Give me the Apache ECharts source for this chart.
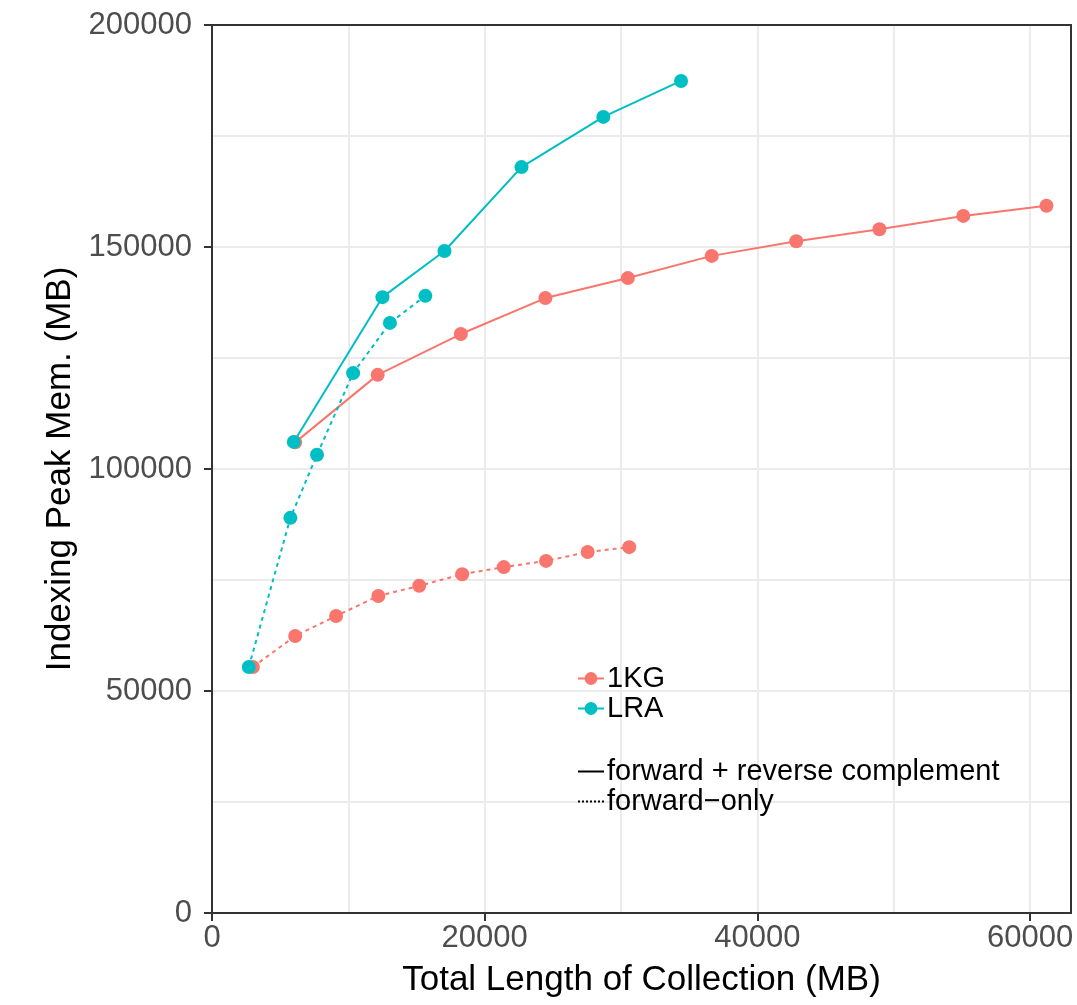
<!DOCTYPE html>
<html>
<head>
<meta charset="utf-8">
<script src="https://cdn.jsdelivr.net/npm/echarts@6/dist/echarts.min.js"></script>
<style>
  html, body { margin: 0; padding: 0; background: #fff; }
  #chart { width: 1077px; height: 1005px; }
</style>
</head>
<body>
<div id="chart"></div>
<script>
// 1KG, forward + reverse complement
const kgSolidX = [6100, 12150, 18250, 24450, 30500, 36650, 42850, 48950, 55100, 61200];
const kgSolidY = [106000, 121200, 130400, 138500, 143000, 148000, 151300, 154000, 157000, 159300];
// 1KG, forward-only
const kgDashX = [3000, 6100, 9100, 12200, 15200, 18350, 21400, 24500, 27550, 30600];
const kgDashY = [55400, 62400, 66900, 71400, 73700, 76300, 77900, 79300, 81300, 82400];
// LRA, forward + reverse complement
const lraSolidX = [6000, 12500, 17050, 22700, 28700, 34400];
const lraSolidY = [106100, 138700, 149100, 168000, 179300, 187400];
// LRA, forward-only
const lraDashX = [2700, 5750, 7700, 10350, 13050, 15650];
const lraDashY = [55400, 89000, 103200, 121600, 132900, 139000];

const xTicks = [0, 20000, 40000, 60000];
const yTicks = [0, 50000, 100000, 150000, 200000];

const RED = '#F8766D';
const CYAN = '#00BFC4';
const FONT = '"Liberation Sans", Arial, sans-serif';

function zip(xs, ys) {
  return xs.map(function (x, i) { return [x, ys[i]]; });
}

function pointSeries(name, color, xs, ys, dashed) {
  return {
    name: name,
    type: 'line',
    data: zip(xs, ys),
    color: color,
    symbol: 'circle',
    symbolSize: 14,
    lineStyle: { width: 2, type: dashed ? [4, 4] : 'solid' },
    itemStyle: { color: color }
  };
}

// axis that only draws a dark border line on the top / right side
function borderAxis(position, max) {
  return {
    type: 'value', position: position, min: 0, max: max, z: 10,
    axisLine: { show: true, onZero: false, lineStyle: { color: '#333', width: 2 } },
    axisTick: { show: false }, axisLabel: { show: false }, splitLine: { show: false }
  };
}

const labelStyle = { fontFamily: FONT, fontSize: 31, color: '#4D4D4D', formatter: function (v) { return String(v); } };
const legendText = { fontFamily: FONT, fontSize: 29, color: '#000', padding: [0, 0, 0, -2] };

const chart = echarts.init(document.getElementById('chart'));
const option = {
  backgroundColor: '#fff',
  animation: false,
  grid: {
    left: 212, right: 6, top: 25, bottom: 92
  },
  xAxis: [{
    // ticks, labels and name
    type: 'value',
    min: 0,
    max: 63000,
    name: 'Total Length of Collection (MB)',
    nameLocation: 'middle',
    nameGap: 50,
    nameTextStyle: { fontFamily: FONT, fontSize: 35, color: '#000' },
    axisLine: { show: true, lineStyle: { color: '#333', width: 2 } },
    axisTick: { show: true, length: 8, customValues: xTicks, lineStyle: { color: '#333', width: 2 } },
    axisLabel: Object.assign({ customValues: xTicks, margin: 10 }, labelStyle),
    splitLine: { show: false }
  }, {
    // grid lines only
    type: 'value',
    position: 'top',
    min: 0,
    max: 63000,
    interval: 10000,
    axisLine: { show: false },
    axisTick: { show: false },
    axisLabel: { show: false },
    splitLine: { show: true, lineStyle: { color: '#EBEBEB', width: 2 } }
  }, borderAxis('top', 63000)],
  yAxis: [{
    type: 'value',
    min: 0,
    max: 200000,
    name: 'Indexing Peak Mem. (MB)',
    nameLocation: 'middle',
    nameGap: 134,
    nameTextStyle: { fontFamily: FONT, fontSize: 35, color: '#000' },
    axisLine: { show: true, lineStyle: { color: '#333', width: 2 } },
    axisTick: { show: true, length: 8, customValues: yTicks, lineStyle: { color: '#333', width: 2 } },
    axisLabel: Object.assign({ customValues: yTicks, margin: 20 }, labelStyle),
    splitLine: { show: false }
  }, {
    type: 'value',
    position: 'right',
    min: 0,
    max: 200000,
    interval: 25000,
    axisLine: { show: false },
    axisTick: { show: false },
    axisLabel: { show: false },
    splitLine: { show: true, lineStyle: { color: '#EBEBEB', width: 2 } }
  }, borderAxis('right', 200000)],
  legend: [{
    data: ['1KG', 'LRA'],
    orient: 'vertical',
    left: 572,
    top: 659,
    itemWidth: 26,
    itemHeight: 16,
    itemGap: 1,
    textStyle: legendText,
    selectedMode: false
  }, {
    data: [
      { name: 'forward + reverse complement', itemStyle: { opacity: 0 } },
      { name: 'forward\u2212only', itemStyle: { opacity: 0 } }
    ],
    orient: 'vertical',
    left: 572,
    top: 752,
    itemWidth: 26,
    itemHeight: 16,
    itemGap: 1,
    textStyle: legendText,
    selectedMode: false
  }],
  series: [
    pointSeries('1KG', RED, kgSolidX, kgSolidY, false),
    pointSeries('1KG', RED, kgDashX, kgDashY, true),
    pointSeries('LRA', CYAN, lraSolidX, lraSolidY, false),
    pointSeries('LRA', CYAN, lraDashX, lraDashY, true),
    // empty series, only for the linetype legend
    {
      name: 'forward + reverse complement', type: 'line', data: [],
      color: '#000', symbol: 'none', lineStyle: { width: 1.5, type: 'solid' }
    },
    {
      name: 'forward\u2212only', type: 'line', data: [],
      color: '#000', symbol: 'none', lineStyle: { width: 1.5, type: [2, 2] }
    }
  ]
};
chart.setOption(option);
</script>
</body>
</html>
